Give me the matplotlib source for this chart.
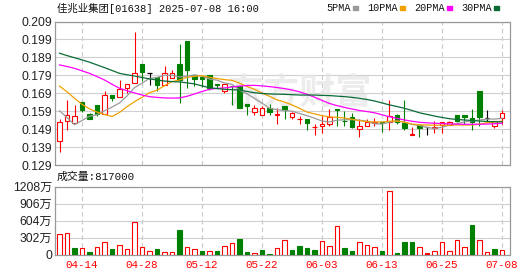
import matplotlib
matplotlib.use("Agg")
import matplotlib.pyplot as plt
from matplotlib.patches import Rectangle

# ---- data ----
dates = ['04-09', '04-10', '04-11', '04-14', '04-15', '04-16', '04-17', '04-22', '04-23', '04-24',
         '04-25', '04-28', '04-29', '04-30', '05-02', '05-06', '05-07', '05-08', '05-09', '05-12',
         '05-13', '05-14', '05-15', '05-16', '05-19', '05-20', '05-21', '05-22', '05-23', '05-26',
         '05-27', '05-28', '05-29', '05-30', '06-02', '06-03', '06-04', '06-05', '06-06', '06-09',
         '06-10', '06-11', '06-12', '06-13', '06-16', '06-17', '06-18', '06-19', '06-20', '06-23',
         '06-24', '06-25', '06-26', '06-27', '06-30', '07-02', '07-03', '07-04', '07-07', '07-08']
tick_dates = ['04-14', '04-28', '05-12', '05-22', '06-03', '06-13', '06-25', '07-08']

opens = [0.1425, 0.1535, 0.1526, 0.1644, 0.1572, 0.1622, 0.1572, 0.1683, 0.1670, 0.1720,
         0.1748, 0.1855, 0.1801, 0.1781, 0.1737, 0.1774, 0.1855, 0.1983, 0.1792, 0.1778,
         0.1794, 0.1742, 0.1701, 0.1733, 0.1733, 0.1631, 0.1587, 0.1570, 0.1605, 0.1571,
         0.1618, 0.1559, 0.1544, 0.1544, 0.1501, 0.1507, 0.1520, 0.1603, 0.1537, 0.1557,
         0.1489, 0.1507, 0.1525, 0.1529, 0.1529, 0.1568, 0.1522, 0.1459, 0.1511, 0.1504,
         0.1494, 0.1511, 0.1513, 0.1568, 0.1568, 0.1554, 0.1705, 0.1552, 0.1507, 0.1550]
highs = [0.1544, 0.1655, 0.1622, 0.1644, 0.1581, 0.1627, 0.1705, 0.1683, 0.1766, 0.1742,
         0.2029, 0.1855, 0.1803, 0.1781, 0.1844, 0.1822, 0.1966, 0.1983, 0.1792, 0.1778,
         0.1794, 0.1742, 0.1742, 0.1733, 0.1733, 0.1631, 0.1622, 0.1618, 0.1631, 0.1609,
         0.1618, 0.1587, 0.1563, 0.1544, 0.1520, 0.1563, 0.1600, 0.1603, 0.1590, 0.1581,
         0.1544, 0.1544, 0.1554, 0.1529, 0.1655, 0.1572, 0.1655, 0.1504, 0.1511, 0.1504,
         0.1535, 0.1529, 0.1535, 0.1568, 0.1568, 0.1603, 0.1705, 0.1594, 0.1533, 0.1594]
lows = [0.1362, 0.1485, 0.1522, 0.1585, 0.1544, 0.1564, 0.1572, 0.1646, 0.1670, 0.1689,
        0.1748, 0.1757, 0.1736, 0.1702, 0.1737, 0.1774, 0.1633, 0.1720, 0.1730, 0.1724,
        0.1707, 0.1718, 0.1689, 0.1622, 0.1609, 0.1568, 0.1568, 0.1570, 0.1568, 0.1520,
        0.1548, 0.1548, 0.1520, 0.1483, 0.1457, 0.1470, 0.1507, 0.1507, 0.1507, 0.1494,
        0.1446, 0.1507, 0.1507, 0.1474, 0.1485, 0.1520, 0.1485, 0.1459, 0.1446, 0.1457,
        0.1470, 0.1470, 0.1513, 0.1531, 0.1520, 0.1485, 0.1507, 0.1535, 0.1496, 0.1520]
closes = [0.1531, 0.1568, 0.1565, 0.1596, 0.1548, 0.1572, 0.1681, 0.1666, 0.1714, 0.1742,
          0.1803, 0.1807, 0.1801, 0.1735, 0.1803, 0.1803, 0.1763, 0.1822, 0.1768, 0.1772,
          0.1720, 0.1734, 0.1742, 0.1730, 0.1609, 0.1620, 0.1605, 0.1609, 0.1587, 0.1573,
          0.1598, 0.1581, 0.1546, 0.1526, 0.1503, 0.1520, 0.1557, 0.1596, 0.1535, 0.1502,
          0.1506, 0.1529, 0.1527, 0.1524, 0.1563, 0.1531, 0.1498, 0.1465, 0.1498, 0.1504,
          0.1504, 0.1529, 0.1529, 0.1535, 0.1557, 0.1529, 0.1557, 0.1552, 0.1533, 0.1581]

ma5 = [0.1592, 0.1555, 0.1515, 0.1538, 0.1562, 0.1570, 0.1592, 0.1613, 0.1636, 0.1675,
       0.1721, 0.1746, 0.1773, 0.1778, 0.1790, 0.1790, 0.1781, 0.1785, 0.1792, 0.1786,
       0.1769, 0.1763, 0.1747, 0.1740, 0.1707, 0.1687, 0.1661, 0.1635, 0.1606, 0.1599,
       0.1594, 0.1590, 0.1577, 0.1565, 0.1551, 0.1535, 0.1530, 0.1540, 0.1542, 0.1543,
       0.1540, 0.1534, 0.1520, 0.1518, 0.1529, 0.1535, 0.1529, 0.1516, 0.1511, 0.1499,
       0.1494, 0.1500, 0.1513, 0.1520, 0.1531, 0.1536, 0.1541, 0.1546, 0.1546, 0.1550]
ma10 = [0.1730, 0.1698, 0.1662, 0.1628, 0.1603, 0.1585, 0.1572, 0.1560, 0.1583, 0.1615,
        0.1643, 0.1667, 0.1693, 0.1707, 0.1732, 0.1755, 0.1764, 0.1779, 0.1784, 0.1788,
        0.1779, 0.1772, 0.1766, 0.1762, 0.1746, 0.1728, 0.1712, 0.1691, 0.1673, 0.1653,
        0.1641, 0.1625, 0.1606, 0.1585, 0.1575, 0.1565, 0.1558, 0.1556, 0.1552, 0.1545,
        0.1537, 0.1532, 0.1530, 0.1530, 0.1534, 0.1535, 0.1529, 0.1518, 0.1514, 0.1513,
        0.1512, 0.1512, 0.1512, 0.1513, 0.1513, 0.1513, 0.1518, 0.1526, 0.1530, 0.1534]
ma20 = [0.1848, 0.1839, 0.1829, 0.1815, 0.1801, 0.1783, 0.1764, 0.1740, 0.1718, 0.1704,
        0.1692, 0.1680, 0.1671, 0.1667, 0.1664, 0.1663, 0.1664, 0.1673, 0.1686, 0.1700,
        0.1712, 0.1717, 0.1720, 0.1725, 0.1730, 0.1733, 0.1734, 0.1731, 0.1727, 0.1722,
        0.1716, 0.1708, 0.1698, 0.1684, 0.1668, 0.1650, 0.1633, 0.1621, 0.1611, 0.1602,
        0.1594, 0.1588, 0.1581, 0.1570, 0.1559, 0.1550, 0.1541, 0.1534, 0.1528, 0.1525,
        0.1523, 0.1521, 0.1519, 0.1518, 0.1517, 0.1517, 0.1517, 0.1518, 0.1520, 0.1523]
ma30 = [0.1913, 0.1900, 0.1888, 0.1876, 0.1863, 0.1848, 0.1833, 0.1817, 0.1801, 0.1793,
        0.1786, 0.1778, 0.1770, 0.1764, 0.1758, 0.1755, 0.1753, 0.1748, 0.1742, 0.1731,
        0.1721, 0.1716, 0.1712, 0.1710, 0.1708, 0.1700, 0.1693, 0.1689, 0.1686, 0.1685,
        0.1684, 0.1682, 0.1680, 0.1680, 0.1680, 0.1678, 0.1677, 0.1674, 0.1671, 0.1667,
        0.1662, 0.1655, 0.1647, 0.1636, 0.1625, 0.1616, 0.1606, 0.1594, 0.1581, 0.1572,
        0.1563, 0.1555, 0.1548, 0.1544, 0.1541, 0.1538, 0.1535, 0.1533, 0.1531, 0.1531]

# volume in units of 10k shares (万)
volume = [358, 375, 107, 107, 42, 125, 215, 89, 161, 89,
          584, 125, 54, 89, 36, 36, 435, 137, 89, 54,
          54, 54, 143, 203, 274, 36, 24, 72, 12, 113,
          250, 77, 149, 113, 77, 232, 149, 507, 113, 60,
          220, 167, 131, 60, 1120, 24, 220, 220, 131, 24,
          54, 220, 54, 250, 131, 524, 250, 36, 95, 81.7]
# u = up (hollow red), d = down (green), f = flat (filled red)
vol_dir = list("uududuuduu" "uuuduuduud"
               "uduudduddu" "udddduuudd"
               "uuududdduf" "uuuuuduudu")

price_ticks = [0.129, 0.139, 0.149, 0.159, 0.169, 0.179, 0.189, 0.199, 0.209]
vol_ticks = [0, 302, 604, 906, 1208]
vol_tick_labels = ['0', '302万', '604万', '906万', '1208万']

ma_names = ['5PMA', '10PMA', '20PMA', '30PMA']
ma_colors = ['#9a9a9a', '#f0a000', '#ff00ff', '#0a6b35']
title = '佳兆业集团[01638] 2025-07-08 16:00'
vol_title = '成交量:817000'

RED = '#ff0000'
GREEN = '#008000'
GRID = '#d0d0d0'
FRAME = '#999999'
CJK = ['Liberation Mono', 'Noto Sans CJK SC']
NUM = ['Liberation Sans', 'Noto Sans CJK SC']

W, H = 530, 276
fig = plt.figure(figsize=(W / 100, H / 100), dpi=100)
ax = fig.add_axes([55 / W, 1 - 165 / H, 454.5 / W, 143.5 / H])
axv = fig.add_axes([55 / W, 1 - 254.5 / H, 454.5 / W, 68 / H])

n = len(closes)
xs = list(range(n))
bw = 0.6
tick_idx = [dates.index(d) for d in tick_dates]

# candles
for j in xs:
    o, h, l, c = opens[j], highs[j], lows[j], closes[j]
    col = RED if c > o else (GREEN if c < o else '#000000')
    ax.vlines(j, l, h, color=col, lw=0.8, zorder=2)
    if c == o:
        ax.hlines(c, j - bw / 2, j + bw / 2, color=col, lw=0.9, zorder=3)
    else:
        face = 'white' if c > o else col
        ax.bar(j, abs(c - o), bottom=min(o, c), width=bw, facecolor=face,
               edgecolor=col, lw=0.8, zorder=3)

for vals, col in zip([ma5, ma10, ma20, ma30], ma_colors):
    ax.plot(xs, vals, color=col, lw=0.9, zorder=4)

ax.text(0.54, 0.5, '东方财富', transform=ax.transAxes, fontsize=26,
        family='Noto Sans CJK SC', weight='bold', color='#e6e6e6', alpha=0.75,
        ha='center', va='center', zorder=1.5)

# volume bars
for j in xs:
    d = vol_dir[j]
    if d == 'u':
        axv.bar(j, volume[j], width=bw, facecolor='white', edgecolor=RED, lw=0.8, zorder=3)
    elif d == 'd':
        axv.bar(j, volume[j], width=bw, facecolor=GREEN, edgecolor=GREEN, lw=0.8, zorder=3)
    else:
        axv.bar(j, volume[j], width=bw, facecolor=RED, edgecolor=RED, lw=0.8, zorder=3)

for a in (ax, axv):
    a.set_xlim(-0.6, 60.0)
    a.set_axisbelow(True)
    a.set_xticks(tick_idx)
    a.xaxis.grid(True, color='#c8c8c8', ls=(0, (4, 3)), lw=0.8)
    a.yaxis.grid(True, color=GRID, lw=0.8)
    a.tick_params(length=0, pad=2, labelsize=8.7, labelcolor='#222222')
    for s in a.spines.values():
        s.set_color(FRAME)
        s.set_linewidth(0.9)

ax.set_ylim(price_ticks[0], price_ticks[-1])
ax.set_yticks(price_ticks)
ax.set_yticklabels(['%.3f' % v for v in price_ticks])
ax.set_xticklabels([])
for t in ax.get_yticklabels():
    t.set_fontfamily(NUM)

axv.set_ylim(vol_ticks[0], vol_ticks[-1])
axv.set_yticks(vol_ticks)
axv.set_yticklabels(vol_tick_labels)
for t in axv.get_yticklabels():
    t.set_fontfamily(NUM)
axv.set_xticklabels(tick_dates)
axv.tick_params(axis='x', pad=4, labelsize=7.8, labelcolor=RED)
for t in axv.get_xticklabels():
    t.set_fontfamily('Liberation Mono')

fig.text(57 / W, 1 - 8 / H, title, family=CJK, size=7.5, va='center', color='#111111')
fig.text(57 / W, 1 - 177 / H, vol_title, family=CJK, size=7.8, va='center', color='#111111')

# MA legend along the top right
fig.canvas.draw()
r = fig.canvas.get_renderer()
x = 326
for name, col in zip(ma_names, ma_colors):
    t = fig.text(x / W, 1 - 8 / H, name, family='Liberation Mono', size=7.3,
                 va='center', color='#111111')
    bb = t.get_window_extent(r)
    x1 = bb.x1 + 2
    fig.patches.append(Rectangle((x1 / W, 1 - 10 / H), 5.5 / W, 3.5 / H,
                                 transform=fig.transFigure, color=col))
    x = x1 + 5.5 + 9

fig.savefig('out.png', dpi=100)
